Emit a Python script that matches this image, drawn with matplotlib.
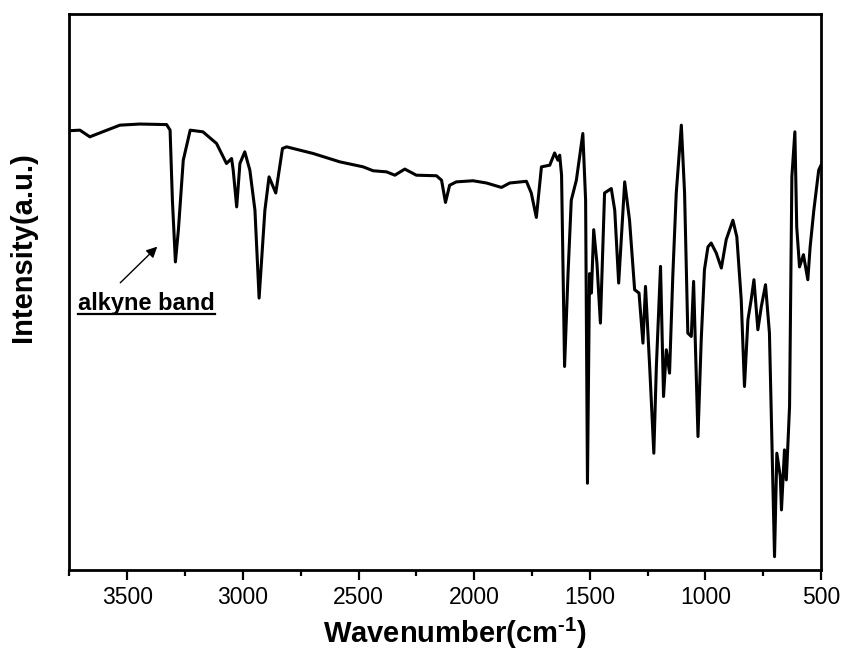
import matplotlib
matplotlib.use("Agg")
import matplotlib.pyplot as plt
from matplotlib.lines import Line2D
from matplotlib.ticker import MultipleLocator, NullLocator

plt.rcParams['font.family'] = ['Liberation Sans', 'DejaVu Sans']
plt.rcParams['mathtext.fontset'] = 'custom'
plt.rcParams['mathtext.rm'] = 'Liberation Sans:bold'
plt.rcParams['mathtext.bf'] = 'Liberation Sans:bold'

# FTIR spectrum (wavenumber in cm-1, intensity in arbitrary units)
wavenumber = [3750, 3705, 3662, 3619, 3532, 3446, 3330, 3315, 3305, 3292,
              3279, 3258, 3228, 3173, 3114, 3071, 3049, 3042, 3027, 3013,
              2992, 2970, 2948, 2930, 2905, 2887, 2858, 2829, 2811, 2696,
              2581, 2480, 2437, 2379, 2343, 2300, 2250, 2163, 2141, 2124,
              2106, 2077, 2005, 1947, 1882, 1846, 1774, 1753, 1731, 1709,
              1673, 1652, 1638, 1630, 1622, 1609, 1594, 1580, 1558, 1530,
              1518, 1510, 1501, 1493, 1483, 1469, 1454, 1436, 1407, 1392,
              1375, 1349, 1328, 1306, 1287, 1270, 1259, 1241, 1223, 1212,
              1194, 1181, 1169, 1155, 1141, 1126, 1104, 1090, 1076, 1061,
              1051, 1032, 1018, 1004, 989, 975, 953, 931, 910, 881,
              864, 845, 831, 816, 802, 790, 773, 758, 740, 723,
              701, 691, 676, 671, 658, 650, 636, 626, 613, 605,
              593, 576, 557, 547, 531, 510, 500]
intensity = [79.0, 79.1, 77.9, 78.6, 80.0, 80.2, 80.1, 79.1, 66.5, 55.4,
             61.2, 73.7, 79.1, 78.8, 76.7, 73.1, 74.0, 71.9, 65.3, 73.1,
             75.2, 71.9, 64.7, 48.9, 64.7, 70.7, 67.8, 75.8, 76.1, 74.9,
             73.4, 72.5, 71.8, 71.6, 71.0, 72.1, 71.0, 70.9, 70.1, 66.1,
             69.2, 69.8, 70.0, 69.6, 68.8, 69.6, 69.9, 67.8, 63.4, 72.5,
             72.8, 75.0, 73.7, 74.6, 71.0, 36.6, 53.3, 66.5, 70.1, 78.5,
             66.5, 15.6, 53.3, 49.8, 61.2, 55.2, 44.4, 67.8, 68.6, 64.7,
             51.6, 69.8, 62.9, 50.4, 49.8, 40.8, 51.0, 36.6, 21.0, 36.6,
             54.6, 31.2, 39.6, 35.4, 52.8, 67.8, 80.0, 67.8, 42.6, 42.0,
             51.9, 24.0, 41.4, 54.0, 58.1, 58.8, 57.0, 54.3, 59.4, 62.9,
             59.9, 48.6, 33.0, 45.0, 48.6, 52.2, 43.2, 47.4, 51.3, 42.6,
             2.4, 21.0, 16.8, 10.8, 21.6, 16.2, 29.4, 70.7, 78.8, 61.7,
             54.5, 56.7, 52.2, 58.1, 64.7, 71.9, 72.8]

fig = plt.figure(figsize=(8.45, 6.64), dpi=100)
ax = fig.add_axes([0.0817, 0.1416, 0.8899, 0.8374])

ax.plot(wavenumber, intensity, color='black', lw=2.2)

ax.set_xlim(3752, 500)
ax.set_ylim(0, 100)
ax.xaxis.set_major_locator(MultipleLocator(500))
ax.xaxis.set_minor_locator(MultipleLocator(250))
ax.yaxis.set_major_locator(NullLocator())
ax.tick_params(axis='x', which='major', direction='out', length=7.5, width=1.6,
               labelsize=16.5, pad=4)
ax.tick_params(axis='x', which='minor', direction='out', length=4.5, width=1.6)
for s in ax.spines.values():
    s.set_linewidth(2.0)

ax.set_xlabel(r'Wavenumber(cm$^{\text{-}1}$)', fontsize=21, fontweight='bold')
ax.set_ylabel('Intensity(a.u.)', fontsize=21, fontweight='bold')
ax.xaxis.set_label_coords(0.513, -0.082)
ax.yaxis.set_label_coords(-0.042, 0.58)

# label for the C-H stretch of the terminal alkyne
txt = ax.text(0.012, 0.468, 'alkyne band', transform=ax.transAxes,
              fontsize=17, fontweight='bold', va='baseline', ha='left')
ax.annotate('', xy=(3362, 58.5), xytext=(3539, 51.3),
            arrowprops=dict(arrowstyle='-|>', lw=1.0, color='black',
                            mutation_scale=16))

fig.canvas.draw()
bb = txt.get_window_extent()
uy = bb.y0 + 1
fig.add_artist(Line2D([bb.x0 / fig.bbox.width, bb.x1 / fig.bbox.width],
                      [uy / fig.bbox.height, uy / fig.bbox.height],
                      color='black', lw=1.6))

fig.savefig('out.png', dpi=100)
